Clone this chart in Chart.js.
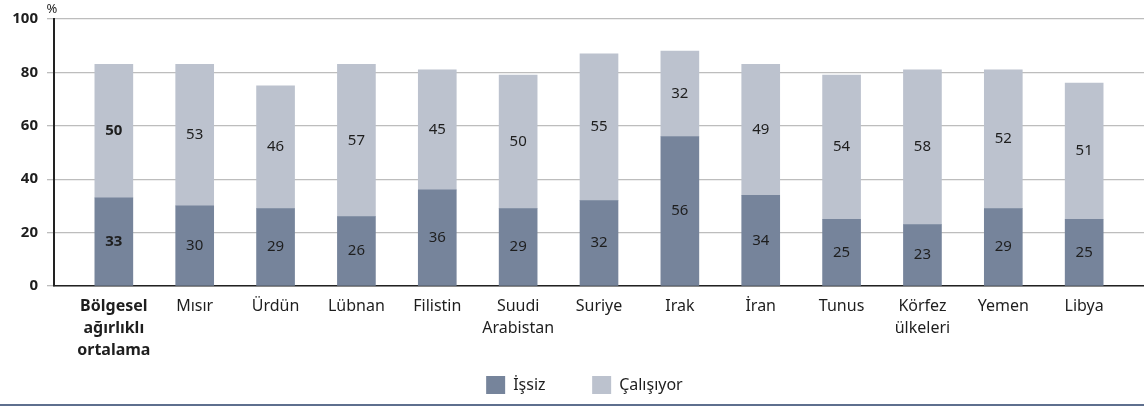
<!DOCTYPE html>
<html lang="tr">
<head>
<meta charset="utf-8">
<script src="https://cdn.jsdelivr.net/npm/chart.js@4.4.1/dist/chart.umd.min.js"></script>
<style>
  html, body { margin: 0; padding: 0; background: #fff; }
  #wrap { width: 1144px; height: 404px; border-bottom: 2px solid #5e6f8e; }
</style>
</head>
<body>
<div id="wrap"><canvas id="chart" width="1144" height="404"></canvas></div>
<script>
// Ülkeler ve değerler (%)
const categories = [
  ['Bölgesel', 'ağırlıklı', 'ortalama'], 'Mısır', 'Ürdün', 'Lübnan', 'Filistin',
  ['Suudi', 'Arabistan'], 'Suriye', 'Irak', 'İran', 'Tunus', ['Körfez', 'ülkeleri'], 'Yemen', 'Libya'
];
const issiz = [33, 30, 29, 26, 36, 29, 32, 56, 34, 25, 23, 29, 25];
const calisiyor = [50, 53, 46, 57, 45, 50, 55, 32, 49, 54, 58, 52, 51];
const yTicks = [0, 20, 40, 60, 80, 100];

const FONT = '"Noto Sans", sans-serif';
const COLORS = { issiz: '#76849b', calisiyor: '#bcc2ce', text: '#1e1e1e' };

const toPoints = arr => arr.map((v, i) => ({ x: i, y: v }));

// Segment ortasına değer yazma
const valueLabels = {
  id: 'valueLabels',
  afterDatasetsDraw(chart) {
    const ctx = chart.ctx;
    ctx.save();
    ctx.fillStyle = COLORS.text;
    ctx.textAlign = 'center';
    ctx.textBaseline = 'middle';
    chart.data.datasets.forEach((ds, di) => {
      chart.getDatasetMeta(di).data.forEach((bar, i) => {
        ctx.font = (i === 0 ? 'bold ' : '') + '15px ' + FONT;
        ctx.fillText(ds.data[i].y, bar.x, (bar.y + bar.base) / 2);
      });
    });
    ctx.restore();
  }
};

// Y ekseninin üstündeki birim
const unitLabel = {
  id: 'unitLabel',
  afterDraw(chart) {
    const y = chart.scales.y;
    const ctx = chart.ctx;
    ctx.save();
    ctx.fillStyle = COLORS.text;
    ctx.font = '13px ' + FONT;
    ctx.textAlign = 'center';
    ctx.textBaseline = 'middle';
    ctx.fillText('%', y.right - 2, y.top - 10);
    ctx.restore();
  }
};

// lejant öğeleri arasına boşluk
const gap = n => '\u00a0'.repeat(n);

const config = {
  type: 'bar',
  data: {
    datasets: [
      { label: 'İşsiz', data: toPoints(issiz), backgroundColor: COLORS.issiz, borderWidth: 0 },
      { label: 'Çalışıyor', data: toPoints(calisiyor), backgroundColor: COLORS.calisiyor, borderWidth: 0 }
    ]
  },
  options: {
    responsive: false,
    animation: false,
    barThickness: 38,
    layout: { padding: { top: 19, left: 0, right: 0, bottom: 0 } },
    plugins: {
      tooltip: { enabled: false },
      legend: {
        position: 'bottom',
        fullSize: false,
        labels: {
          boxWidth: 19,
          boxHeight: 18,
          padding: 5,
          color: COLORS.text,
          font: { family: FONT, size: 16 },
          generateLabels(chart) {
            const items = Chart.defaults.plugins.legend.labels.generateLabels(chart);
            return items.map((it, i) => ({ ...it, text: it.text + gap(i === 0 ? 10 : 7) }));
          }
        }
      }
    },
    scales: {
      x: {
        type: 'linear',
        offset: false,
        stacked: true,
        min: -0.74,
        max: 12.74,
        grid: { display: false, drawTicks: false },
        border: { color: '#222', width: 1.5 },
        afterFit(scale) { scale.height = 85; },
        ticks: {
          stepSize: 1,
          includeBounds: false,
          autoSkip: false,
          maxRotation: 0,
          padding: 9,
          color: COLORS.text,
          font: ctx => ({ family: FONT, size: 16, lineHeight: 1.375, weight: ctx.tick && ctx.tick.value === 0 ? 'bold' : 'normal' }),
          callback: v => Number.isInteger(v) ? categories[v] : ''
        }
      },
      y: {
        stacked: true,
        min: 0,
        max: 100,
        afterFit(scale) { scale.width = 54; },
        afterBuildTicks(scale) { scale.ticks = yTicks.map(v => ({ value: v })); },
        grid: { color: '#bdbdbd', lineWidth: 1.3, tickLength: 7 },
        border: { color: '#222', width: 2 },
        ticks: {
          padding: 9,
          color: COLORS.text,
          font: { family: FONT, size: 15, weight: 'bold' }
        }
      }
    }
  },
  plugins: [valueLabels, unitLabel]
};

const chart = new Chart(document.getElementById('chart'), config);
</script>
</body>
</html>
